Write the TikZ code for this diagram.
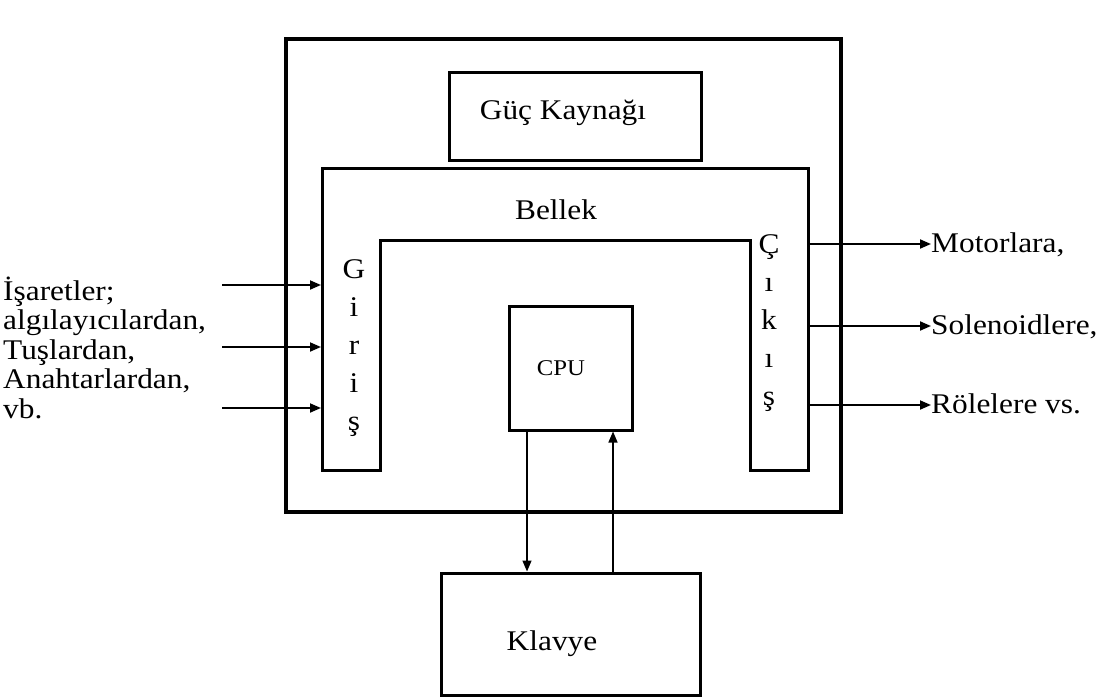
\documentclass[tikz,border=0pt]{standalone}
\usepackage{fontspec}
\setmainfont{Liberation Serif}[FakeStretch=1.1]
\usetikzlibrary{positioning, arrows.meta}

\begin{document}
\begin{tikzpicture}[x=1pt, y=-1pt,
    box/.style={draw=black, line width=3pt, inner sep=0pt},
    txt/.style={font=\fontsize{28.5}{29.5}\selectfont, inner sep=0pt},
    arr/.style={-{Triangle[length=11pt, width=9pt]}, line width=1.8pt},
    ]
    \useasboundingbox (0,0) rectangle (1102,698);
    %Boxes
    \node[box, line width=3.5pt, minimum width=555pt, minimum height=473pt] (plc) at (563.5,275.5) {};
    \node[box, minimum width=252pt, minimum height=87pt] (guc) at (575,116.5) {};
    \node[txt] (guctxt) at ([xshift=-12pt, yshift=4pt]guc.center) {Güç Kaynağı};
    \node[box, minimum width=123pt, minimum height=124pt] (cpu) at (570.5,368) {};
    \node[txt, font=\fontsize{22.5}{24}\selectfont] (cputxt) at ([xshift=-9.5pt]cpu.center) {CPU};
    \node[box, minimum width=259pt, minimum height=122pt] (klavye) at (570.5,634) {};
    \node[txt] (klavyetxt) at ([xshift=-18.5pt, yshift=-10pt]klavye.center) {Klavye};

    %Bellek
    \draw[line width=3pt] (322,168) -- (808,168) -- (808,470) -- (750,470)
        -- (750,240) -- (380,240) -- (380,470) -- (322,470) -- cycle;
    \node[txt] (bellek) at (556,210) {Bellek};
    \foreach \ch [count=\i] in {G,i,r,i,ş}
        \node[txt, anchor=base] (g\i) at (354,240+38*\i) {\ch};
    \foreach \ch [count=\i] in {Ç,ı,k,ı,ş}
        \node[txt, anchor=base] (c\i) at (769,215+38*\i) {\ch};

    %Inputs
    \node[txt, align=left, anchor=base west] (sig) at (3,418)
        {İşaretler;\\algılayıcılardan,\\Tuşlardan,\\Anahtarlardan,\\vb.};
    \coordinate (gw) at (321,0);
    \foreach \y [count=\i] in {285,347,408} {
        \coordinate (in\i) at (222,\y);
        \draw[arr] (in\i) -- (in\i -| gw);
    }

    %Outputs
    \node[txt, anchor=base west] (motor) at (931,252) {Motorlara,};
    \node[txt, anchor=base west] (sol) at (931,334) {Solenoidlere,};
    \node[txt, anchor=base west] (role) at (931,413) {Rölelere vs.};
    \coordinate (out1) at (808,244);
    \coordinate (out2) at (808,326);
    \coordinate (out3) at (808,405);
    \draw[arr] (out1) -- (out1 -| motor.west);
    \draw[arr] (out2) -- (out2 -| sol.west);
    \draw[arr] (out3) -- (out3 -| role.west);

    %CPU - Klavye
    \coordinate (dn) at ([xshift=-43.5pt]cpu.south);
    \coordinate (up) at ([xshift=42.5pt]cpu.south);
    \draw[arr, line width=1.4pt] (dn) -- (dn |- klavye.north);
    \draw[arr, line width=1.4pt] (up |- klavye.north) -- (up);
\end{tikzpicture}
\end{document}
